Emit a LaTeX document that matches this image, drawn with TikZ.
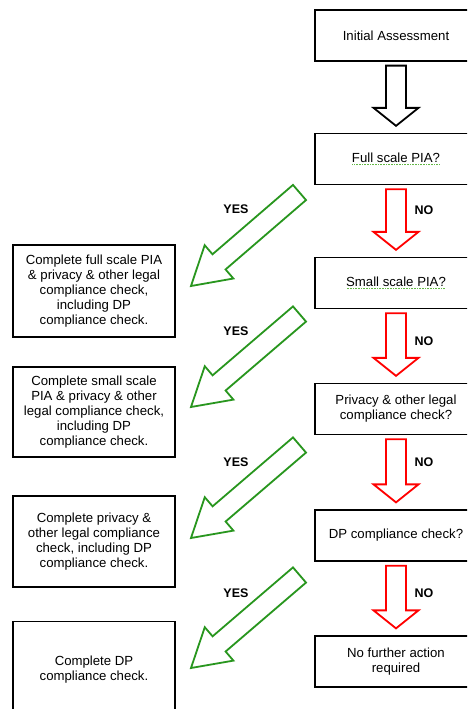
\documentclass[tikz,border=0pt]{standalone}
\usepackage{fontspec}
\setmainfont{Liberation Sans}
\usetikzlibrary{calc}

\definecolor{yesgreen}{RGB}{40,150,30}
\definecolor{nored}{RGB}{255,0,0}
\definecolor{squiggle}{RGB}{100,185,70}

% text with a dotted green underline
\newcommand\squig[1]{\setbox0\hbox{#1}%
  \rlap{\raisebox{-2.5pt}{\color{squiggle}\leaders\hbox to 1.6pt{\hss\rule{0.8pt}{0.8pt}\hss}\hskip\wd0}}\copy0}

% hollow block arrow: colour, tail, tip, head length, half head width
\newcommand\blockarrow[5]{%
  \coordinate (ba-h) at ($(#3)!#4!(#2)$);
  \draw[#1, line width=1.8pt, line join=miter]
    ($(#2)!10pt!90:(#3)$) -- ($(ba-h)!10pt!90:(#3)$) -- ($(ba-h)!#5!90:(#3)$)
    -- (#3)
    -- ($(ba-h)!#5!-90:(#3)$) -- ($(ba-h)!10pt!-90:(#3)$) -- ($(#2)!10pt!-90:(#3)$) -- cycle;}

\tikzset{
  box/.style={draw=black, line width=1.3pt, minimum width=162pt, align=center,
    inner sep=2pt, font=\fontsize{13.2}{15}\selectfont},
  qbox/.style={box, minimum height=51pt},
  abox/.style={box, minimum height=91pt},
  lbl/.style={font=\bfseries\fontsize{12.5}{14}\selectfont},
}

\begin{document}
\begin{tikzpicture}[x=1pt, y=-1pt]
\useasboundingbox (0,0) rectangle (467,709);
\clip (0,0) rectangle (467,709);
\fill[white] (0,0) rectangle (467,709);

% question column
\node[qbox] (init)  at (396,35.5)  {Initial Assessment};
\node[qbox] (full)  at (396,159)   {\squig{Full scale PIA?}};
\node[qbox] (small) at (396,283)   {\squig{Small scale PIA?}};
\node[qbox] (priv)  at (396,409)   {Privacy \& other legal\\compliance check?};
\node[qbox] (dp)    at (396,535.5) {DP compliance check?};
\node[qbox] (none)  at (396,661.5) {No further action\\required};

% action column
\node[abox, minimum height=92pt] (cfull) at (94,291)
  {Complete full scale PIA\\\& privacy \& other legal\\compliance check,\\including DP\\compliance check.};
\node[abox, minimum height=90pt] (csmall) at (94,412)
  {Complete small scale\\PIA \& privacy \& other\\legal compliance check,\\including DP\\compliance check.};
\node[abox] (cpriv) at (94,541.5)
  {Complete privacy \&\\other legal compliance\\check, including DP\\compliance check.};
\node[abox, minimum height=96pt] (cdp) at (94,669.5)
  {Complete DP\\compliance check.};

% down arrows between questions
\foreach \a/\b/\n in {init/full/0, full/small/1, small/priv/2, priv/dp/3, dp/none/4}{
  \coordinate (d\n-t) at ($(\a.south)+(0,4)$);
  \coordinate (d\n-h) at ($(\b.north)+(0,-7)$);
}
\blockarrow{black}{d0-t}{d0-h}{18pt}{22.5pt}
\blockarrow{nored}{d1-t}{d1-h}{18pt}{22.5pt}
\blockarrow{nored}{d2-t}{d2-h}{18pt}{22.5pt}
\blockarrow{nored}{d3-t}{d3-h}{18pt}{22.5pt}
\blockarrow{nored}{d4-t}{d4-h}{18pt}{22.5pt}

% diagonal YES arrows
\coordinate (y1-t) at (299.5,192.5); \coordinate (y1-h) at (191,286);
\coordinate (y2-t) at (299.5,314);   \coordinate (y2-h) at (191,407);
\coordinate (y3-t) at (299.5,445);   \coordinate (y3-h) at (191,538);
\coordinate (y4-t) at (299.5,575);   \coordinate (y4-h) at (191,668);
\blockarrow{yesgreen}{y1-t}{y1-h}{37pt}{22pt}
\blockarrow{yesgreen}{y2-t}{y2-h}{37pt}{22pt}
\blockarrow{yesgreen}{y3-t}{y3-h}{37pt}{22pt}
\blockarrow{yesgreen}{y4-t}{y4-h}{37pt}{22pt}

% branch labels
\node[lbl] (yes1) at (236,209) {YES};
\node[lbl] (yes2) at (236,331) {YES};
\node[lbl] (yes3) at (236,462) {YES};
\node[lbl] (yes4) at (236,593) {YES};
\node[lbl] (no1) at (424,210) {NO};
\node[lbl] (no2) at (424,341) {NO};
\node[lbl] (no3) at (424,462) {NO};
\node[lbl] (no4) at (424,593) {NO};
\end{tikzpicture}
\end{document}
